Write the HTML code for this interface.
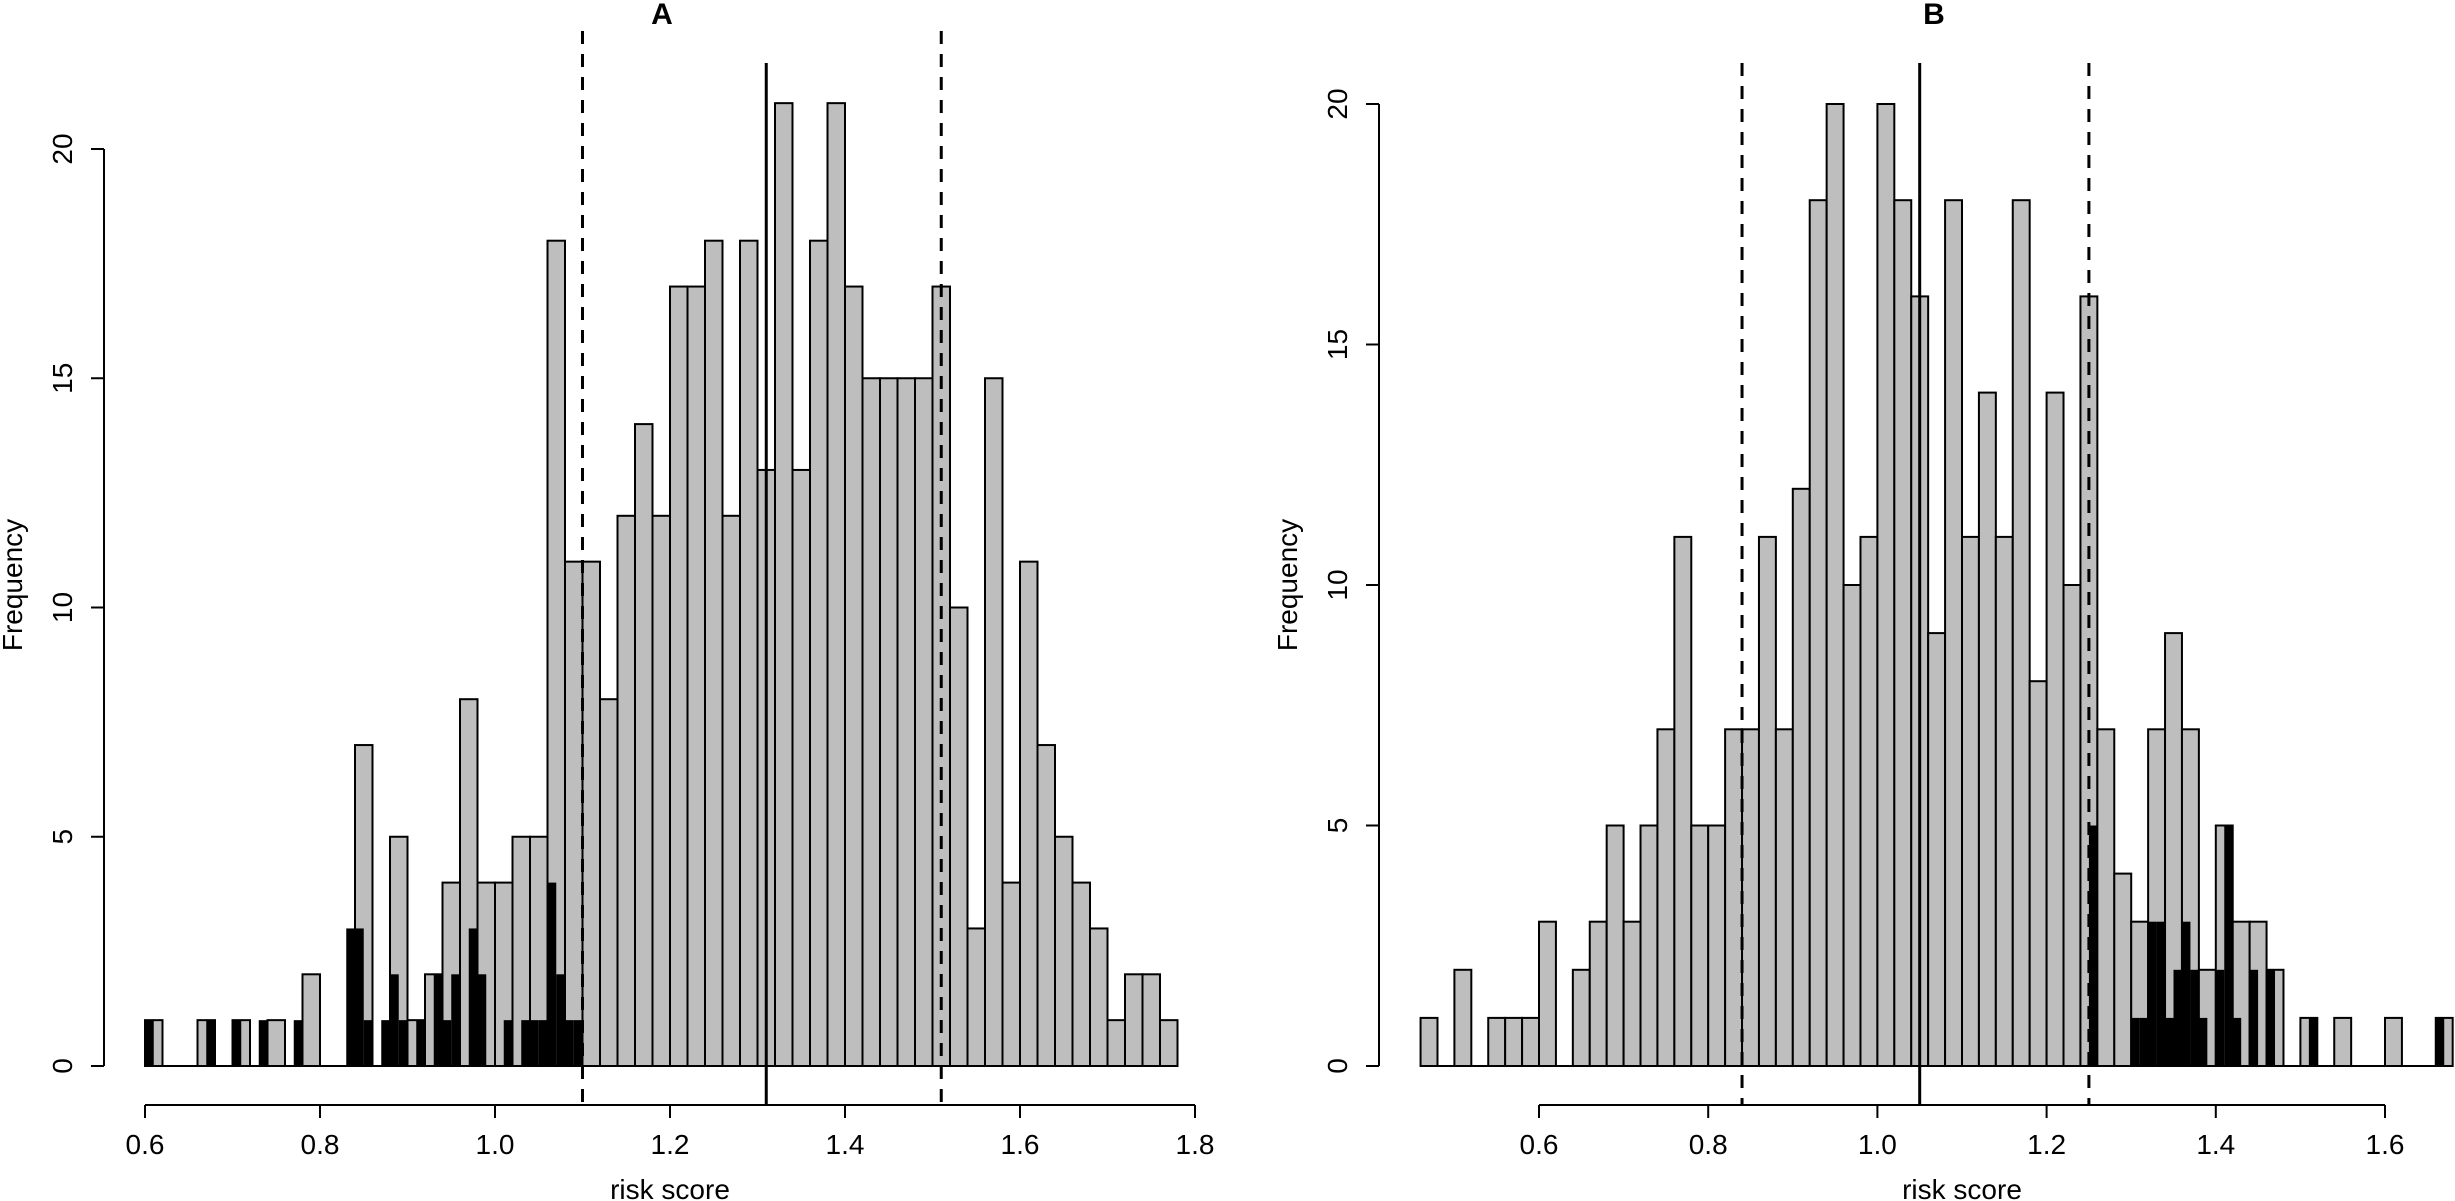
<!DOCTYPE html>
<html>
<head>
<meta charset="utf-8">
<style>
  html, body { margin:0; padding:0; background:#fff; }
  svg { display:block; }
  text { font-family: "Liberation Sans", Arial, sans-serif; fill:#000; }
</style>
</head>
<body>
<svg id="chart" width="2455" height="1201" viewBox="0 0 2455 1201" xmlns="http://www.w3.org/2000/svg"></svg>
<script>
// ---------- Panel A data ----------
const aBinStart = 0.60;
const aBinWidth = 0.02;
const aGrayCounts = [1,0,0,1,0,1,0,1,0,2,0,0,7,0,5,1,2,4,8,4,4,5,5,18,11,11,8,12,14,12,17,17,18,12,18,13,21,13,18,21,17,15,15,15,15,17,10,3,15,4,11,7,5,4,3,1,2,2,1];
const aBlackX = [0.60,0.67,0.70,0.73,0.77,0.83,0.84,0.85,0.87,0.88,0.89,0.91,0.93,0.94,0.95,0.97,0.98,1.01,1.03,1.04,1.05,1.06,1.07,1.08,1.09];
const aBlackCounts = [1,1,1,1,1,3,3,1,1,2,1,1,2,1,2,3,2,1,1,1,1,4,2,1,1];
const aXTicks = [0.6,0.8,1.0,1.2,1.4,1.6,1.8];
const aXTickLabels = ["0.6","0.8","1.0","1.2","1.4","1.6","1.8"];
const aDashed = [1.10,1.51];
const aSolid = [1.31];

// ---------- Panel B data ----------
const bBinStart = 0.46;
const bBinWidth = 0.02;
const bGrayCounts = [1,0,2,0,1,1,1,3,0,2,3,5,3,5,7,11,5,5,7,7,11,7,12,18,20,10,11,20,18,16,9,18,11,14,11,18,8,14,10,16,7,4,3,7,9,7,2,5,3,3,2,0,1,0,1,0,0,1,0,0,1];
const bBlackX = [1.25,1.30,1.31,1.32,1.33,1.34,1.35,1.36,1.37,1.38,1.40,1.41,1.42,1.44,1.46,1.51,1.66];
const bBlackCounts = [5,1,1,3,3,1,2,3,2,1,2,5,1,2,2,1,1];
const bXTicks = [0.6,0.8,1.0,1.2,1.4,1.6];
const bXTickLabels = ["0.6","0.8","1.0","1.2","1.4","1.6"];
const bDashed = [0.84,1.25];
const bSolid = [1.05];

const yTicks = [0,5,10,15,20];
const yTickLabels = ["0","5","10","15","20"];
const blackWidth = 0.01;

const NS = "http://www.w3.org/2000/svg";
const svg = document.getElementById("chart");
function mk(tag, attrs, parent) {
  const e = document.createElementNS(NS, tag);
  for (const k in attrs) e.setAttribute(k, attrs[k]);
  (parent || svg).appendChild(e);
  return e;
}

const plotBottom = 1105, axisY = 1105;

function drawPanel(p) {
  const g = mk("g", {});
  
  
  const xS = v => p.x0 + (v - 0.6) * p.kx;
  const yS = v => p.y0 - v * p.ky;

  p.gray.forEach((c, i) => {
    if (c <= 0) return;
    const x1 = xS(p.binStart + i * p.binWidth), x2 = xS(p.binStart + (i + 1) * p.binWidth);
    const r = mk("rect", {x:x1, y:yS(c), width:x2 - x1, height:yS(0) - yS(c), fill:"#bebebe", stroke:"#000", "stroke-width":2}, g);
    
    
  });
  const bl = mk("line", {x1:xS(p.binStart), x2:xS(p.binStart + p.gray.length * p.binWidth), y1:yS(0), y2:yS(0), stroke:"#000", "stroke-width":2}, g);
  
  
  p.blackX.forEach((xv, i) => {
    const c = p.blackC[i];
    const x1 = xS(xv), x2 = xS(xv + blackWidth);
    const r = mk("rect", {x:x1, y:yS(c), width:x2 - x1, height:yS(0) - yS(c), fill:"#000"}, g);
    
    
  });
  p.dashed.forEach(v => {
    const l = mk("line", {x1:xS(v), x2:xS(v), y1:p.dashTop, y2:plotBottom, stroke:"#000", "stroke-width":3, "stroke-dasharray":"13,10"}, g);
    
    
  });
  p.solid.forEach(v => {
    const l = mk("line", {x1:xS(v), x2:xS(v), y1:p.solidTop, y2:plotBottom, stroke:"#000", "stroke-width":3}, g);
    
    
  });
  const xa = mk("g", {}, g);
  
  
  mk("line", {x1:xS(p.xTicks[0]), x2:xS(p.xTicks[p.xTicks.length-1]), y1:axisY, y2:axisY, stroke:"#000", "stroke-width":2}, xa);
  p.xTicks.forEach((t, i) => {
    mk("line", {x1:xS(t), x2:xS(t), y1:axisY, y2:axisY + 13, stroke:"#000", "stroke-width":2}, xa);
    const tx = mk("text", {x:xS(t), y:1154, "text-anchor":"middle", "font-size":28}, xa);
    tx.textContent = p.xLabels[i];
    
    
  });
  const xt = mk("text", {x:(xS(p.xTicks[0]) + xS(p.xTicks[p.xTicks.length-1])) / 2, y:1199, "text-anchor":"middle", "font-size":28}, g);
  xt.textContent = "risk score";
  
  
  const ya = mk("g", {}, g);
  
  
  mk("line", {x1:p.yAxisX, x2:p.yAxisX, y1:yS(yTicks[0]), y2:yS(yTicks[yTicks.length-1]), stroke:"#000", "stroke-width":2}, ya);
  yTicks.forEach((t, i) => {
    mk("line", {x1:p.yAxisX - 13, x2:p.yAxisX, y1:yS(t), y2:yS(t), stroke:"#000", "stroke-width":2}, ya);
    const tx = mk("text", {x:0, y:0, "text-anchor":"middle", "font-size":28, transform:`translate(${p.yAxisX - 32},${yS(t)}) rotate(-90)`}, ya);
    tx.textContent = yTickLabels[i];
    
    
  });
  const yt = mk("text", {x:0, y:0, "text-anchor":"middle", "font-size":28, transform:`translate(${p.yAxisX - 82},${585}) rotate(-90)`}, g);
  yt.textContent = "Frequency";
  
  
  const tt = mk("text", {x:p.titleX, y:24, "text-anchor":"middle", "font-size":30, "font-weight":"bold"}, g);
  tt.textContent = p.title;
  
  
}

drawPanel({name:"panel-a", x0:145, kx:875, y0:1066, ky:45.85, binStart:aBinStart, binWidth:aBinWidth,
  gray:aGrayCounts, blackX:aBlackX, blackC:aBlackCounts, dashed:aDashed, solid:aSolid,
  xTicks:aXTicks, xLabels:aXTickLabels, yAxisX:104, titleX:662, title:"A", dashTop:31, solidTop:63});
drawPanel({name:"panel-b", x0:1539, kx:846, y0:1066, ky:48.1, binStart:bBinStart, binWidth:bBinWidth,
  gray:bGrayCounts, blackX:bBlackX, blackC:bBlackCounts, dashed:bDashed, solid:bSolid,
  xTicks:bXTicks, xLabels:bXTickLabels, yAxisX:1379, titleX:1934, title:"B", dashTop:63, solidTop:63});
</script>
</body>
</html>
